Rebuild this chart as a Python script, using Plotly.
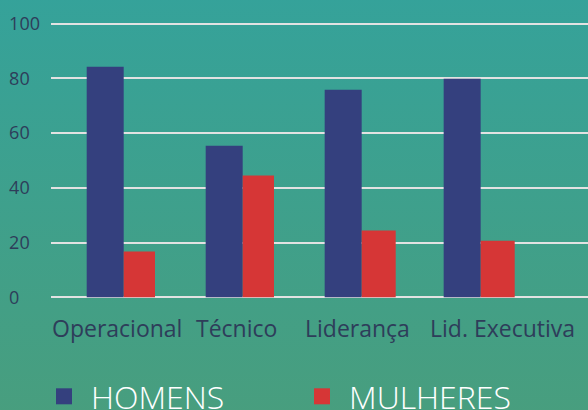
import plotly.graph_objects as go

categories = ["Operacional", "Técnico", "Liderança", "Lid. Executiva"]
homens = [84.3, 55.4, 75.9, 79.9]
mulheres = [16.7, 44.5, 24.4, 20.7]
series_names = ["HOMENS", "MULHERES"]
y_ticks = [0, 20, 40, 60, 80, 100]
y_tick_text = ["0\u2007\u2007", "20\u2007", "40\u2007", "60\u2007", "80\u2007", "100"]

# style: horizontal nudge (px) of each category label
label_xshift = [-6.5, -6, -3.7, 22]

NAVY = "#34407E"
RED = "#D63636"
LABEL = "#2E3D5A"

W, H = 588, 410
UNIT = 2.737
ML, MR = 51, 0
MT = 24 - UNIT
MB = H - (297.7 + UNIT)
PH = H - MT - MB
PW = W - ML - MR

fig = go.Figure()
fig.add_trace(go.Bar(x=categories, y=homens, name=series_names[0], marker_color=NAVY,
                     marker_line_width=0,
                     offset=-0.311, width=0.311, showlegend=False, legendgroup="h"))
fig.add_trace(go.Bar(x=categories, y=mulheres, name=series_names[1], marker_color=RED,
                     marker_line_width=0,
                     offset=0, width=[0.263, 0.263, 0.286, 0.286], showlegend=False, legendgroup="m"))
# legend entries
fig.add_trace(go.Scatter(x=[None], y=[None], mode="markers", name=series_names[0], legendgroup="h",
                         marker=dict(symbol="square", size=20, color=NAVY)))
fig.add_trace(go.Scatter(x=[None], y=[None], mode="markers", name=series_names[1], legendgroup="m",
                         marker=dict(symbol="square", size=20, color=RED)))

# category labels
for cat, dx in zip(categories, label_xshift):
    fig.add_annotation(x=cat, y=0, xref="x", yref="y", text=cat, showarrow=False,
                       xanchor="center", yanchor="middle", xshift=dx, yshift=-30.5,
                       font=dict(size=23, color=LABEL, family="Open Sans"))

svg = ("data:image/svg+xml;utf8,<svg xmlns='http://www.w3.org/2000/svg' width='100' height='100' "
       "preserveAspectRatio='none'><defs><linearGradient id='g' x1='0' y1='0' x2='0' y2='1'>"
       "<stop offset='0' stop-color='%2335A29A'/><stop offset='1' stop-color='%23489E7E'/>"
       "</linearGradient></defs><rect width='100' height='100' fill='url(%23g)'/></svg>")
fig.add_layout_image(dict(source=svg, xref="paper", yref="paper",
                          x=-ML / PW - 0.01, y=1 + MT / PH + 0.01,
                          sizex=W / PW + 0.03, sizey=H / PH + 0.03,
                          sizing="stretch", xanchor="left", yanchor="top", layer="below"))

fig.update_layout(
    width=W, height=H,
    margin=dict(l=ML, r=MR, t=MT, b=MB, autoexpand=False),
    paper_bgcolor="#3FA08B", plot_bgcolor="rgba(0,0,0,0)",
    barmode="overlay",
    font=dict(family="Open Sans", color=LABEL),
    showlegend=True,
    legend=dict(orientation="h", xref="paper", yref="paper",
                x=(37 - ML) / PW, y=-(397 - (H - MB)) / PH,
                xanchor="left", yanchor="middle",
                font=dict(size=32, color="white", family="Open Sans", weight=300),
                itemwidth=44,
                entrywidth=199, entrywidthmode="pixels", itemsizing="trace",
                bgcolor="rgba(0,0,0,0)"),
)
fig.update_xaxes(range=[-0.611, 3.902], showticklabels=False,
                 showgrid=False, zeroline=False, showline=False, ticks="")
fig.update_yaxes(range=[-1, 101], tickvals=y_ticks, ticktext=y_tick_text,
                 tickfont=dict(size=18, color=LABEL), ticklabelstandoff=10,
                 showgrid=True, gridcolor="#E2E2E2", gridwidth=2,
                 zeroline=True, zerolinecolor="#E2E2E2", zerolinewidth=2, showline=False, ticks="")

fig.write_html("out.html", config={"displayModeBar": False},
               post_script="document.body.style.margin='0';document.body.style.overflow='hidden';")
